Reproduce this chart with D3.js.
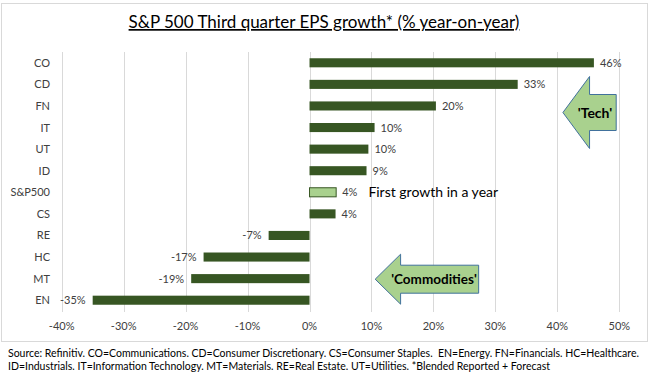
<!DOCTYPE html>
<html>
<head>
<meta charset="utf-8">
<script src="https://cdn.jsdelivr.net/npm/d3@7"></script>
<style>
  body { margin: 0; background: #fff; }
  svg { font-family: Lato, 'Open Sans', sans-serif; }
</style>
</head>
<body>
<script>
// Sector codes, top to bottom as they appear in the chart.
var sectors = ['CO', 'CD', 'FN', 'IT', 'UT', 'ID', 'S&P500', 'CS', 'RE', 'HC', 'MT', 'EN'];
// Q3 EPS growth, % year-on-year (blended reported + forecast).
var growth = [45.9, 33.6, 20.4, 10.5, 9.5, 9.2, 4.3, 4.2, -6.6, -17.1, -19.1, -35.0];
// Rounded labels printed next to each bar.
var growthLabels = ['46%', '33%', '20%', '10%', '10%', '9%', '4%', '4%', '-7%', '-17%', '-19%', '-35%'];
var xTicks = [-40, -30, -20, -10, 0, 10, 20, 30, 40, 50];

var footerLines = [
    'Source: Refinitiv. CO=Communications. CD=Consumer Discretionary. CS=Consumer Staples.  EN=Energy. FN=Financials. HC=Healthcare.',
    'ID=Industrials. IT=Information Technology. MT=Materials. RE=Real Estate. UT=Utilities. *Blended Reported + Forecast'
];

var W = 650, H = 376;
var darkGreen = '#375623', lightGreen = '#a9d18e', arrowStroke = '#41719c';

var svg = d3.select('body').append('svg')
    .attr('width', W).attr('height', H);

// Chart frame
svg.append('rect')
    .attr('x', 1.5).attr('y', 3.5).attr('width', 646).attr('height', 338)
    .attr('fill', 'white').attr('stroke', '#d9d9d9');

// Scales
var x = d3.scaleLinear().domain([-40, 50]).range([61.7, 619.3]);
var y = d3.scaleBand().domain(sectors).range([52, 311]).paddingInner(0.58).paddingOuter(0.29);

var data = sectors.map(function(s, i) {
    return { name: s, value: growth[i], label: growthLabels[i] };
});

// Title
svg.append('text')
    .attr('x', 324).attr('y', 28)
    .attr('text-anchor', 'middle')
    .style('font-size', '17px')
    .style('text-decoration', 'underline')
    .attr('fill', '#000')
    .text('S&P 500 Third quarter EPS growth* (% year-on-year)');

// Vertical gridlines
svg.append('g').selectAll('line').data(xTicks)
    .enter().append('line')
    .attr('x1', function(d) { return Math.round(x(d)) + 0.5; })
    .attr('x2', function(d) { return Math.round(x(d)) + 0.5; })
    .attr('y1', 52).attr('y2', 312)
    .attr('stroke', '#d9d9d9');

// X axis tick labels
svg.append('g').selectAll('text').data(xTicks)
    .enter().append('text')
    .attr('x', function(d) { return x(d); })
    .attr('y', 330)
    .attr('text-anchor', 'middle')
    .style('font-size', '11px')
    .attr('fill', '#404040')
    .text(function(d) { return d + '%'; });

// Category labels
svg.append('g').selectAll('text').data(sectors)
    .enter().append('text')
    .attr('x', 50)
    .attr('y', function(d) { return y(d) + y.bandwidth() / 2 + 4; })
    .attr('text-anchor', 'end')
    .style('font-size', '11px')
    .attr('fill', '#404040')
    .text(function(d) { return d; });

// Bars
svg.append('g').selectAll('rect').data(data)
    .enter().append('rect')
    .attr('x', function(d) { return x(Math.min(0, d.value)); })
    .attr('y', function(d) { return y(d.name); })
    .attr('width', function(d) { return Math.abs(x(d.value) - x(0)); })
    .attr('height', y.bandwidth())
    .attr('fill', function(d) { return d.name === 'S&P500' ? lightGreen : darkGreen; })
    .attr('stroke', function(d) { return d.name === 'S&P500' ? darkGreen : 'none'; })
    .attr('stroke-width', 1);

// Value labels
svg.append('g').selectAll('text').data(data)
    .enter().append('text')
    .attr('x', function(d) { return d.value >= 0 ? x(d.value) + 6 : x(d.value) - 7; })
    .attr('y', function(d) { return y(d.name) + y.bandwidth() / 2 + 4; })
    .attr('text-anchor', function(d) { return d.value >= 0 ? 'start' : 'end'; })
    .style('font-size', '11px')
    .attr('fill', '#404040')
    .text(function(d) { return d.label; });

// Note next to the S&P500 bar
svg.append('text')
    .attr('x', x(9.5)).attr('y', y('S&P500') + y.bandwidth() / 2 + 5)
    .style('font-size', '14px')
    .attr('fill', '#000')
    .text('First growth in a year');

// Left-pointing block arrows, placed in data units (x in %, y centre in px)
var arrows = [
    { text: "'Tech'", tip: 40.9, base: 45.2, end: 49.5, cy: 112.5, head: 36, body: 18, tx: 595, size: 14 },
    { text: "'Commodities'", tip: 10.6, base: 14.7, end: 27.3, cy: 279.2, head: 25, body: 14, tx: 434, size: 13.5 }
];

arrows.forEach(function(a) {
    var pts = [
        [x(a.tip), a.cy],
        [x(a.base), a.cy - a.head],
        [x(a.base), a.cy - a.body],
        [x(a.end), a.cy - a.body],
        [x(a.end), a.cy + a.body],
        [x(a.base), a.cy + a.body],
        [x(a.base), a.cy + a.head]
    ];
    svg.append('polygon')
        .attr('points', pts.map(function(p) { return p.join(','); }).join(' '))
        .attr('fill', lightGreen)
        .attr('stroke', arrowStroke)
        .attr('stroke-width', 1);
    svg.append('text')
        .attr('x', a.tx).attr('y', a.cy + 5)
        .attr('text-anchor', 'middle')
        .style('font-size', a.size + 'px')
        .style('font-weight', 'bold')
        .attr('fill', '#000')
        .text(a.text);
});

// Footer
svg.append('g').selectAll('text').data(footerLines)
    .enter().append('text')
    .attr('x', 8)
    .attr('y', function(d, i) { return 357 + i * 13; })
    .style('font-size', '10.5px')
    .style('white-space', 'pre')
    .attr('fill', '#000')
    .text(function(d) { return d; });
</script>
</body>
</html>
